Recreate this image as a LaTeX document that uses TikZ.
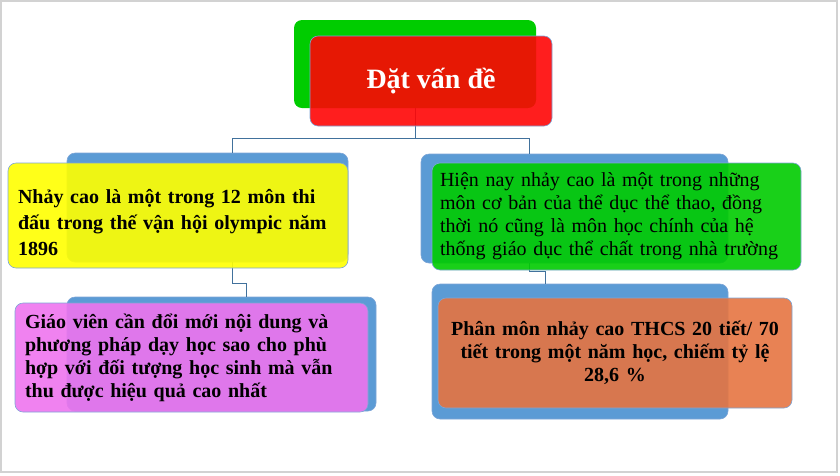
\documentclass[tikz,border=0pt]{standalone}
\usepackage{fontspec}
\setmainfont{Liberation Serif}
\usetikzlibrary{positioning}

\definecolor{backblue}{RGB}{91,155,213}
\definecolor{edgeblue}{RGB}{125,165,215}
\definecolor{linkblue}{RGB}{65,113,156}
\definecolor{topgreen}{RGB}{0,204,0}
\definecolor{titlered}{RGB}{255,5,5}
\definecolor{boxyellow}{RGB}{255,255,0}
\definecolor{boxgreen}{RGB}{0,203,0}
\definecolor{boxpink}{RGB}{238,116,238}
\definecolor{boxorange}{RGB}{229,116,65}

\begin{document}
\begin{tikzpicture}[x=1pt,y=-1pt,
	back/.style={rectangle,rounded corners=8pt,fill=backblue,draw=edgeblue,line width=0.6pt,inner sep=0pt},
	front/.style={rectangle,rounded corners=8pt,draw=edgeblue,line width=0.6pt,fill opacity=0.9,text opacity=1,inner xsep=10pt,inner ysep=0pt,font=\fontsize{20}{23}\selectfont\bfseries},
	link/.style={draw=linkblue,line width=0.8pt}]
	\useasboundingbox (0,0) rectangle (840,475);
	\draw[gray!35,line width=2pt] (1,1) rectangle (837,472);

	% top
	\node[rectangle,rounded corners=8pt,fill=topgreen,minimum width=242pt,minimum height=88pt] at (415,64) (tg) {};
	\node[back,minimum width=281pt,minimum height=109pt] at (207.5,207.5) (yb) {};
	\node[back,minimum width=309pt,minimum height=114pt] at (221.5,354) (pb) {};
	\node[back,minimum width=307pt,minimum height=109pt] at (574.5,208.5) (gb) {};
	\node[back,minimum width=296pt,minimum height=135pt] at (580,351.5) (ob) {};
	\coordinate (lx) at (232,138);
	\coordinate (rx) at (529,138);
	\coordinate (lm) at (246,283);
	\coordinate (rm) at (545,271);

	% connectors
	\draw[link] (tg.south) |- (lx) -- (lx |- yb.north);
	\draw[link] (tg.south) |- (rx) -- (rx |- gb.north);
	\draw[link] (lx |- yb.south) |- (lm) -- (lm |- pb.north);
	\draw[link] (rx |- gb.south) |- (rm) -- (rm |- ob.north);

	\node[front,fill=titlered,text=white,minimum width=242pt,minimum height=90pt,font=\fontsize{28}{32}\selectfont\bfseries] at (431,81) (title) {Đặt vấn đề};

	% left branch
	\node[front,fill=boxyellow,minimum width=340pt,minimum height=105pt,text width=320pt,align=left,font=\fontsize{20}{26}\selectfont\bfseries] at (178,215.5) (yel)
		{\rule{0pt}{29pt}Nhảy cao là một trong 12 môn thi\\đấu trong thế vận hội olympic năm\\1896};
	\node[front,fill=boxpink,minimum width=353pt,minimum height=109pt,text width=333pt,align=left] at (191.5,357.5) (pnk)
		{Giáo viên cần đổi mới nội dung và\\phương pháp dạy học sao cho phù\\hợp với đối tượng học sinh mà vẫn\\thu được hiệu quả cao nhất};

	% right branch
	\node[front,fill=boxgreen,minimum width=369pt,minimum height=107pt,inner xsep=8pt,text width=353pt,align=left,font=\fontsize{20}{23}\selectfont] at (616.5,216.5) (grn)
		{Hiện nay nhảy cao là một trong những\\môn cơ bản của thể dục thể thao, đồng\\thời nó cũng là môn học chính của hệ\\thống giáo dục thể chất trong nhà trường};
	\node[front,fill=boxorange,minimum width=354pt,minimum height=110pt,inner xsep=4pt,text width=346pt,align=center] at (615,353) (org)
		{Phân môn nhảy cao THCS 20 tiết/ 70\\tiết trong một năm học, chiếm tỷ lệ\\28,6 \%};
\end{tikzpicture}
\end{document}
